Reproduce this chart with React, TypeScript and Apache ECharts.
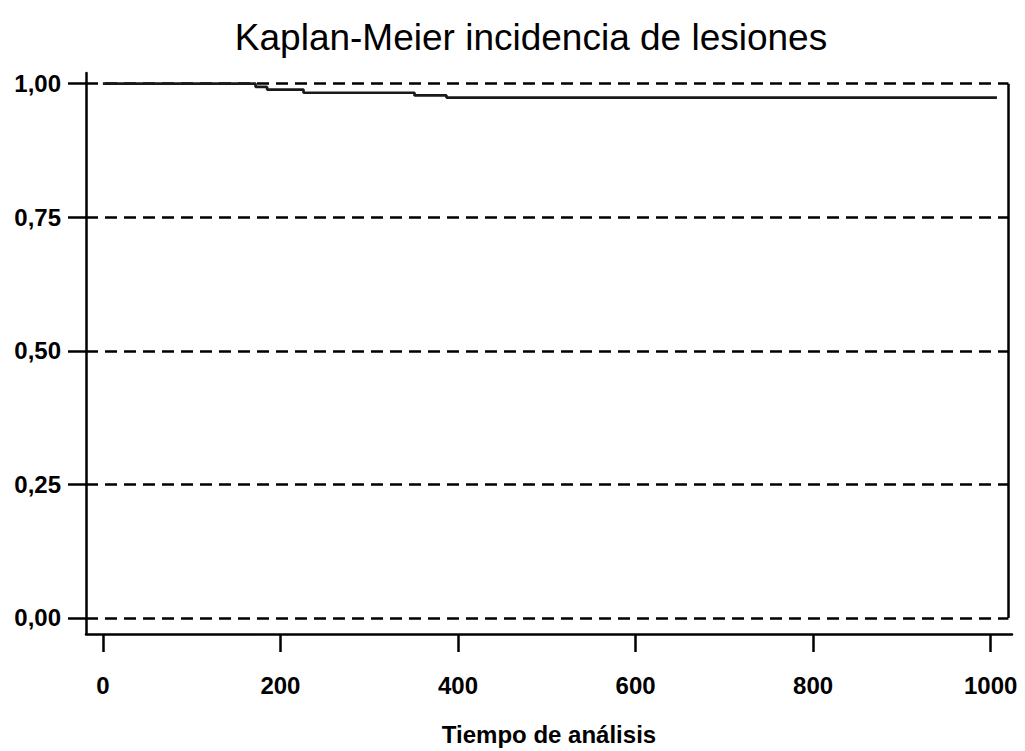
import React, { useEffect, useRef } from "react";
import * as echarts from "echarts";

// Kaplan-Meier step data (time, survival)
const times = [0, 172, 185, 226, 351, 387, 1007];
const survival = [1.0, 0.994, 0.989, 0.983, 0.978, 0.974, 0.974];

const xTicks = [0, 200, 400, 600, 800, 1000];
const yTicks = [0, 0.25, 0.5, 0.75, 1.0];

const titleText = "Kaplan-Meier incidencia de lesiones";
const xAxisName = "Tiempo de análisis";

const X_MIN = -19;
const X_MAX = 1024;
const Y_MIN = -0.03;
const Y_MAX = 1.02;
const X_BORDER = 1020;

export default function App() {
  const ref = useRef<HTMLDivElement>(null);

  useEffect(() => {
    if (!ref.current) return;
    const chart = echarts.init(ref.current, null, { renderer: "svg" });
    const font = "'Liberation Sans', Arial, Helvetica, sans-serif";

    const gridLines = yTicks.map((v) => [
      { coord: [X_MIN, v] },
      { coord: [X_BORDER, v] },
    ]);

    const option = {
      animation: false,
      backgroundColor: "#ffffff",
      graphic: [
        {
          type: "text",
          x: 531,
          y: 37,
          silent: true,
          style: {
            text: titleText,
            fontFamily: font,
            fontSize: 37,
            fontWeight: "normal",
            fill: "#000",
            textAlign: "center",
            textVerticalAlign: "middle",
          },
        },
      ],
      grid: { left: 86, top: 73, width: 926, height: 568, containLabel: false },
      xAxis: {
        type: "value",
        min: X_MIN,
        max: X_MAX,
        name: xAxisName,
        nameLocation: "middle",
        nameGap: 88,
        nameTextStyle: {
          fontFamily: font,
          fontSize: 24,
          fontWeight: "bold",
          color: "#000",
        },
        axisLine: { show: true, onZero: false, lineStyle: { color: "#000", width: 2.5 } },
        axisTick: {
          show: true,
          length: 18,
          customValues: xTicks,
          lineStyle: { color: "#000", width: 2.5 },
        },
        axisLabel: {
          customValues: xTicks,
          margin: 39,
          fontFamily: font,
          fontSize: 24,
          fontWeight: "bold",
          color: "#000",
          formatter: (v: number) => String(Math.round(v)),
        },
        splitLine: { show: false },
      },
      yAxis: {
        type: "value",
        min: Y_MIN,
        max: Y_MAX,
        axisLine: { show: true, onZero: false, lineStyle: { color: "#000", width: 2.5 } },
        axisTick: {
          show: true,
          length: 18,
          customValues: yTicks,
          lineStyle: { color: "#000", width: 2.5 },
        },
        axisLabel: {
          customValues: yTicks,
          margin: 25,
          fontFamily: font,
          fontSize: 24,
          fontWeight: "bold",
          color: "#000",
          formatter: (v: number) => v.toFixed(2).replace(".", ","),
        },
        splitLine: { show: false },
      },
      series: [
        {
          type: "line",
          step: "end",
          showSymbol: false,
          symbol: "none",
          data: times.map((t, i) => [t, survival[i]]),
          lineStyle: { color: "#1a1a1a", width: 2.7 },
          z: 5,
          markLine: {
            silent: true,
            symbol: "none",
            label: { show: false },
            lineStyle: { color: "#000", width: 2.5, type: [12, 7] },
            data: [
              ...gridLines,
              [
                { coord: [X_BORDER, 0], lineStyle: { type: "solid", color: "#000", width: 2.5 } },
                { coord: [X_BORDER, 1] },
              ],
            ],
          },
        },
      ],
    };

    chart.setOption(option as any);
    return () => chart.dispose();
  }, []);

  return (
    <div
      ref={ref}
      style={{ position: "fixed", left: 0, top: 0, width: 1025, height: 751 }}
    />
  );
}
